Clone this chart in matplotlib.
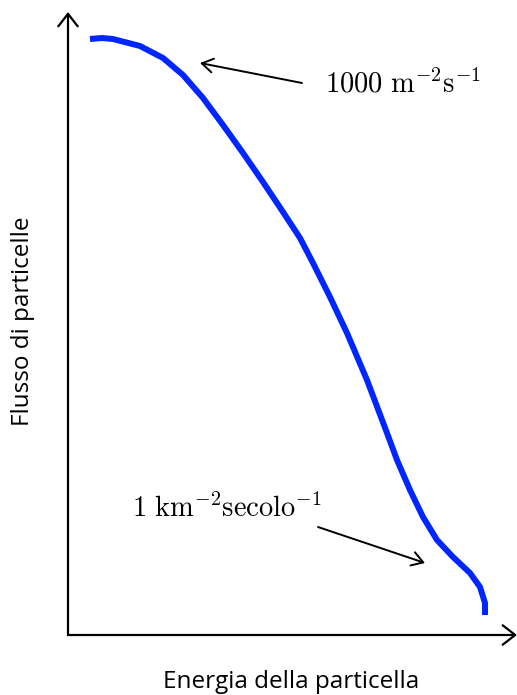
import matplotlib
matplotlib.use("Agg")
from matplotlib import pyplot as plt

plt.rcParams['mathtext.fontset'] = 'cm'
plt.rcParams['font.family'] = ['Open Sans', 'DejaVu Sans']

# curve (arbitrary units, axis origin = 0,0)
energy = [22, 34, 45, 72, 95, 115, 135, 155, 175, 195, 215, 232, 245, 262,
          279, 299, 319, 329, 342, 355, 369, 385, 402, 412, 417, 417]
flux = [596, 597, 596, 589, 577, 560, 537, 510, 482, 453, 423, 397, 372, 338,
        302, 255, 202, 175, 145, 118, 95, 78, 62, 48, 32, 20]

label_top = r"$1000\ \mathrm{m}^{-2}\mathrm{s}^{-1}$"
label_bottom = r"$1\ \mathrm{km}^{-2}\mathrm{secolo}^{-1}$"

fig = plt.figure(figsize=(5.17, 6.95), dpi=100)
ax = fig.add_axes([68 / 517, 60 / 695, 449 / 517, 623 / 695])
ax.set_xlim(0, 449)
ax.set_ylim(0, 623)
ax.axis('off')

ax.plot(energy, flux, color='#0026ff', lw=4.3, solid_capstyle='butt',
        solid_joinstyle='round')

# axes with arrow heads
axis_style = dict(arrowstyle='->,head_length=0.45,head_width=0.35', lw=1.6,
                  color='black', mutation_scale=20, shrinkA=0, shrinkB=0)
ax.annotate('', xy=(0, 1), xytext=(0, 0), xycoords='axes fraction',
            arrowprops=axis_style)
ax.annotate('', xy=(1, 0), xytext=(0, 0), xycoords='axes fraction',
            arrowprops=axis_style)

note_style = dict(arrowstyle='->,head_length=0.4,head_width=0.25', lw=1.4,
                  color='black', mutation_scale=20, shrinkA=0, shrinkB=0)
ax.annotate('', xy=(132, 572), xytext=(234, 552), arrowprops=note_style)
ax.annotate('', xy=(357, 72), xytext=(250, 108), arrowprops=note_style)
ax.text(257, 550, label_top, fontsize=20.5, ha='left', va='center')
ax.text(64, 125, label_bottom, fontsize=20.5, ha='left', va='center')

fig.text(291 / 517, 1 - 682 / 695, "Energia della particella", fontsize=17.5,
         ha='center', va='center')
fig.text(23 / 517, 1 - 321 / 695, "Flusso di particelle", fontsize=17.5,
         ha='center', va='center', rotation=90)

fig.savefig("out.png", dpi=100)
